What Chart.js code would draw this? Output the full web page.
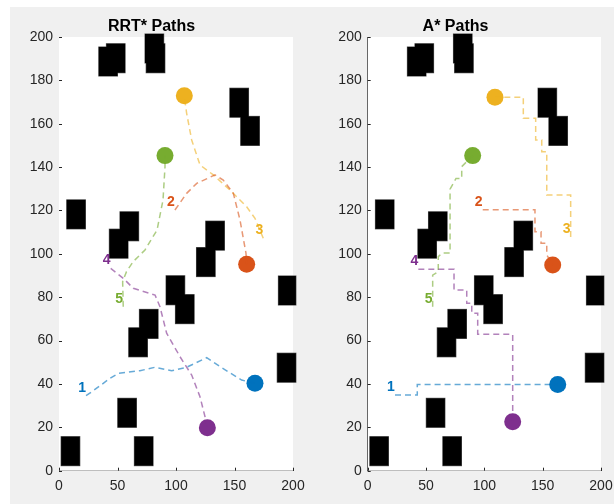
<!DOCTYPE html>
<html>
<head>
<meta charset="utf-8">
<script src="https://cdn.jsdelivr.net/npm/chart.js@4"></script>
<style>
  body { margin: 0; background: #fff; width: 614px; height: 504px; overflow: hidden; }
  #panel { position: absolute; left: 10px; top: 7px; width: 604px; height: 497px; background: #f0f0f0; }
  .box { position: absolute; top: 7px; height: 497px; }
</style>
</head>
<body>
<div id="panel"></div>
<div class="box" style="left:10px;width:300px"><canvas id="rrtChart"></canvas></div>
<div class="box" style="left:310px;width:304px"><canvas id="astarChart"></canvas></div>
<script>
// Цвета путей (MATLAB по умолчанию)
const pathColors = ['#0072BD', '#D95319', '#EDB120', '#7E2F8E', '#77AC30'];
const lineColors = ['rgba(0,114,189,0.6)', 'rgba(217,83,25,0.6)', 'rgba(237,177,32,0.6)', 'rgba(126,47,142,0.6)', 'rgba(119,172,48,0.6)'];
const pathLabels = ['1', '2', '3', '4', '5'];

// Препятствия: [x, y, ширина, высота] в единицах данных
const obstacles = [
    [34, 182, 16, 13.4], [40.5, 183.5, 16, 13.4], [73.5, 188, 16, 13.4], [74.5, 183.5, 16, 13.4],
    [146, 163, 16, 13.4], [155.3, 150, 16, 13.4], [6.6, 111.5, 16, 13.4], [52.1, 106, 16, 13.4],
    [43, 98, 16, 13.4], [125.4, 101.7, 16, 13.4], [117.5, 89.5, 16, 13.4], [91.5, 76.5, 16, 13.4],
    [99.5, 67.8, 16, 13.4], [187.5, 76.4, 15, 13.4], [68.7, 61, 16, 13.4], [59.6, 52.5, 16, 13.4],
    [186.5, 40.8, 16, 13.4], [50.2, 20, 16, 13.4], [1.8, 2.3, 16, 13.4], [64.4, 2.3, 16, 13.4]
];

// RRT* пути (от старта к цели)
const rrtPath1 = [[23.1,34.6],[29.3,36.9],[43.6,42.6],[50.7,44.9],[69.2,46.1],[82,47.7],[96.3,46.1],[109.1,47.7],[126.2,52.1],[137.6,48],[156.1,41.8],[167.5,40.3]];
const rrtPath2 = [[99.1,120.2],[109.1,127.9],[117.7,132.5],[133.3,136.4],[140.4,134],[149,127.9],[154.7,115.6],[159.8,100.3],[160.4,95.2]];
const rrtPath3 = [[174.6,107.2],[167.5,116.4],[160.4,121.7],[146.2,129.4],[131.9,136.4],[120.5,141],[113.4,152.5],[109.1,164.8],[107.1,172.9]];
const rrtPath4 = [[44.2,93.3],[55,88.7],[63.5,84.1],[82.1,81],[86.3,75.6],[92,63.4],[103.4,52.6],[113.4,44.1],[120.5,34.1],[124.8,24.9],[126.8,19.8]];
const rrtPath5 = [[54.9,75.6],[54.4,87.2],[57.7,91.8],[63.4,96.4],[73.5,101.8],[83.8,111],[88.9,124.8],[90.6,140.2],[90.6,145.3]];

// A* пути
const astarPath1 = [[23.4,34.9],[42.5,34.9],[42.5,39.7],[162.9,39.7]];
const astarPath2 = [[98.6,120.3],[143.4,120.3],[143.4,110.2],[148.6,110.2],[148.6,104.9],[153.5,104.9],[153.5,99.5],[158.6,94.9]];
const astarPath3 = [[174,107.8],[174,127.1],[153.5,127.1],[153.5,147.1],[149.2,147.1],[149.2,152.5],[144,152.5],[144,162.5],[133.4,162.5],[133.4,172.2],[109.1,172.2]];
const astarPath4 = [[43.4,92.9],[74,92.9],[74,83.3],[84.9,83.3],[84.9,77.2],[89.2,77.2],[89.2,72.6],[94.3,72.6],[94.3,62.9],[124.3,62.9],[124.3,22.6]];
const astarPath5 = [[55.7,75.6],[55.7,90.2],[60.5,91.8],[60.5,98.7],[64,100.4],[70.6,100.4],[70.6,129.8],[75.7,134.8],[80.6,134.8],[80.6,140.2],[90,145.3]];

const xTicks = [0, 50, 100, 150, 200];
const yTicks = [0, 20, 40, 60, 80, 100, 120, 140, 160, 180, 200];

const axisColor = '#262626';

// Белый фон области графика + препятствия
const mapPlugin = {
    id: 'mapPlugin',
    beforeDatasetsDraw(chart) {
        const { ctx, chartArea, scales } = chart;
        ctx.save();
        ctx.fillStyle = '#ffffff';
        ctx.fillRect(chartArea.left, chartArea.top, chartArea.right - chartArea.left, chartArea.bottom - chartArea.top);
        const rects = obstacles.map(o => {
            const x0 = scales.x.getPixelForValue(o[0]);
            const x1 = scales.x.getPixelForValue(o[0] + o[2]);
            const y0 = scales.y.getPixelForValue(o[1] + o[3]);
            const y1 = scales.y.getPixelForValue(o[1]);
            return [x0, y0, x1 - x0, y1 - y0];
        });
        // сначала контуры, потом заливка — внутренние края перекрытий не видны
        ctx.strokeStyle = '#5a5a5a';
        ctx.lineWidth = 1;
        rects.forEach(r => ctx.strokeRect(r[0], r[1], r[2], r[3]));
        ctx.fillStyle = '#000000';
        rects.forEach(r => ctx.fillRect(r[0], r[1], r[2], r[3]));
        ctx.restore();
    },
    afterDatasetsDraw(chart) {
        const { ctx, chartArea, scales } = chart;
        ctx.save();
        // засечки внутрь, как в MATLAB
        ctx.strokeStyle = axisColor;
        ctx.lineWidth = 1;
        ctx.beginPath();
        xTicks.forEach(v => {
            const px = Math.round(scales.x.getPixelForValue(v)) + 0.5;
            ctx.moveTo(px, chartArea.bottom);
            ctx.lineTo(px, chartArea.bottom - 3);
        });
        yTicks.forEach(v => {
            const py = Math.round(scales.y.getPixelForValue(v)) + 0.5;
            ctx.moveTo(chartArea.left, py);
            ctx.lineTo(chartArea.left + 3, py);
        });
        ctx.stroke();
        // номера путей у старта
        ctx.font = 'bold 14px "Liberation Sans", Arial, sans-serif';
        ctx.textAlign = 'center';
        ctx.textBaseline = 'middle';
        chart.data.datasets.forEach((ds, i) => {
            if (i >= 5) return;
            const p = ds.data[0];
            ctx.fillStyle = pathColors[i];
            ctx.fillText(pathLabels[i], scales.x.getPixelForValue(p.x) - 4, scales.y.getPixelForValue(p.y) - 8);
        });
        ctx.restore();
    }
};

function makeChart(id, title, paths, yWidth, padRight) {
    const datasets = paths.map((p, i) => ({
        data: p.map(q => ({ x: q[0], y: q[1] })),
        showLine: true,
        borderColor: lineColors[i],
        borderWidth: 1.5,
        borderDash: [6, 4],
        pointRadius: 0,
        clip: false
    }));
    datasets.push({
        data: paths.map(p => ({ x: p[p.length - 1][0], y: p[p.length - 1][1] })),
        showLine: false,
        pointRadius: 8.5,
        pointBorderWidth: 0,
        pointBackgroundColor: pathColors,
        clip: false
    });

    return new Chart(document.getElementById(id).getContext('2d'), {
        type: 'scatter',
        data: { datasets },
        options: {
            responsive: true,
            maintainAspectRatio: false,
            animation: false,
            layout: { padding: { left: 0, right: padRight, top: 0, bottom: 0 } },
            plugins: {
                legend: { display: false },
                tooltip: { enabled: false },
                title: {
                    display: true,
                    text: title,
                    color: '#000000',
                    font: { family: '"Liberation Sans", Arial, sans-serif', size: 16, weight: 'bold' },
                    padding: { top: 9.8, bottom: 1 }
                }
            },
            scales: {
                x: {
                    type: 'linear',
                    min: 0, max: 200,
                    afterBuildTicks: s => { s.ticks = xTicks.map(v => ({ value: v })); },
                    afterFit: s => { s.height = 33.3; s.paddingLeft = 0; s.paddingRight = 0; },
                    grid: { display: true, drawOnChartArea: false, drawTicks: false },
                    border: { display: true, color: axisColor, width: 1 },
                    ticks: { color: axisColor, padding: 7, maxRotation: 0, font: { family: '"Liberation Sans", Arial, sans-serif', size: 14 } }
                },
                y: {
                    type: 'linear',
                    min: 0, max: 200,
                    afterBuildTicks: s => { s.ticks = yTicks.map(v => ({ value: v })); },
                    afterFit: s => { s.width = yWidth; s.paddingTop = 0; s.paddingBottom = 0; },
                    grid: { display: true, drawOnChartArea: false, drawTicks: false },
                    border: { display: true, color: axisColor, width: 1 },
                    ticks: { color: axisColor, padding: 6, font: { family: '"Liberation Sans", Arial, sans-serif', size: 14 } }
                }
            }
        },
        plugins: [mapPlugin]
    });
}

makeChart('rrtChart', 'RRT* Paths', [rrtPath1, rrtPath2, rrtPath3, rrtPath4, rrtPath5], 49, 17);
makeChart('astarChart', 'A* Paths', [astarPath1, astarPath2, astarPath3, astarPath4, astarPath5], 57.7, 13);
</script>
</body>
</html>
